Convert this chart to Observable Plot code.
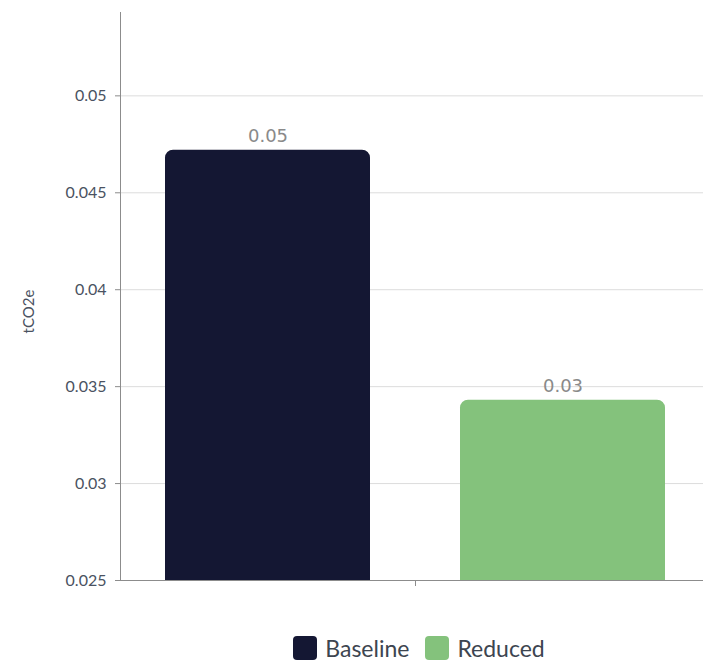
<!DOCTYPE html>
<html>
<head>
<meta charset="utf-8">
<script src="https://cdn.jsdelivr.net/npm/d3@7"></script>
<script src="https://cdn.jsdelivr.net/npm/@observablehq/plot@0.6"></script>
<style>
  html, body { margin: 0; padding: 0; background: #fff; }
  #chart { width: 703px; }
  .legend {
    display: flex; justify-content: center; align-items: center; gap: 16px;
    font-family: Lato, "Open Sans", sans-serif; font-size: 23px; color: #3d4550;
    margin-top: 24px; padding-left: 135px;
  }
  .legend span.item { display: flex; align-items: center; gap: 8px; }
  .legend span.sw { width: 24px; height: 24px; border-radius: 4px; display: inline-block; }
</style>
</head>
<body>
<div id="chart"></div>
<script>
// Emissions per scenario (tCO2e)
const group = ["Emissions"];
const series = ["Baseline", "Reduced"];
const values = [0.0472, 0.0343];
const colors = ["#141733", "#84c27c"];
const yTicks = [0.025, 0.03, 0.035, 0.04, 0.045, 0.05];
const yDomain = [0.025, 0.0543];

const data = series.map((s, i) => ({group: group[0], series: s, value: values[i]}));

const chart = Plot.plot({
  width: 703,
  height: 610,
  marginLeft: 120,
  marginRight: -7,
  marginTop: 12,
  marginBottom: 30,
  style: {fontFamily: "Lato, 'Open Sans', sans-serif", fontSize: "16px", color: "#4a5261"},
  fx: {domain: group, padding: 0, label: null, tickSize: 6, tickFormat: () => ""},
  x: {domain: series, paddingInner: 0.304, paddingOuter: 0.152, axis: null},
  y: {domain: yDomain, ticks: yTicks, tickFormat: d => String(d), tickSize: 5, tickPadding: 9,
      label: "tCO2e", labelAnchor: "center", labelArrow: "none", labelOffset: 97, clamp: true},
  color: {domain: series, range: colors},
  marks: [
    Plot.gridY(yTicks, {stroke: "#dcdcdc", strokeOpacity: 1}),
    Plot.barY(data, {fx: "group", x: "series", y1: yDomain[0], y2: "value", fill: "series",
      rx1y1: 8, rx2y1: 8, ry1: 0}),
    Plot.text(data, {fx: "group", x: "series", y: "value", text: d => d3.format(".2f")(d.value),
      dy: -14, fill: "#8a8a8a", fontSize: 18, fontFamily: "'DejaVu Sans', sans-serif"}),
    Plot.frame({anchor: "left", stroke: "#8c8c8c"}),
    Plot.frame({anchor: "bottom", stroke: "#8c8c8c"})
  ]
});
chart.querySelectorAll("[aria-label='fx-axis tick'] path, [aria-label='y-axis tick'] path").forEach(p => p.setAttribute("stroke", "#8c8c8c"));
// nudge the rotated axis title a little lower, level with the bars' middle
chart.querySelectorAll("[aria-label='y-axis label'] text").forEach(t => {
  t.setAttribute("font-size", "15");
  const tr = t.getAttribute("transform") || "";
  t.setAttribute("transform", "translate(0,15) " + tr);
});
document.getElementById("chart").appendChild(chart);

const legend = document.createElement("div");
legend.className = "legend";
series.forEach((s, i) => {
  const item = document.createElement("span");
  item.className = "item";
  const sw = document.createElement("span");
  sw.className = "sw";
  sw.style.background = colors[i];
  item.appendChild(sw);
  item.appendChild(document.createTextNode(s));
  legend.appendChild(item);
});
document.getElementById("chart").appendChild(legend);
</script>
</body>
</html>
